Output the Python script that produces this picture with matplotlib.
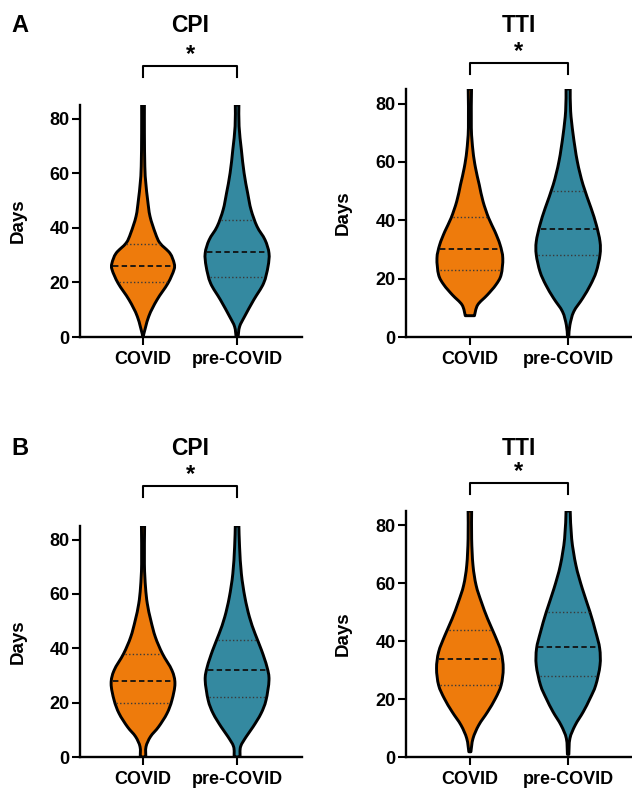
import numpy as np
import matplotlib
matplotlib.use("Agg")
import matplotlib.pyplot as plt
import matplotlib.transforms as mtransforms
from matplotlib.path import Path
from matplotlib.patches import PathPatch

plt.rcParams['font.family'] = ['Liberation Sans', 'DejaVu Sans']
plt.rcParams['font.weight'] = 'bold'

groups = ['COVID', 'pre-COVID']
colors = ['#EE7B0C', '#3489A0']

# violin outlines: height (days) and half-width (x units)
a_cpi_covid_y = [0, 7.5, 13.6, 19.7, 24.6, 27.0, 30.7, 34.4, 38.0, 44.2, 50.3, 56.4, 62.5, 74.7, 85]
a_cpi_covid_w = [0.0, 0.057, 0.14, 0.25, 0.31, 0.312, 0.27, 0.17, 0.124, 0.07, 0.046, 0.028, 0.018, 0.014, 0.014]
a_cpi_pre_y = [0, 3.8, 7.5, 13.6, 19.7, 25.8, 30.7, 35.6, 40.5, 46.6, 52.7, 60.1, 68.6, 77.2, 85]
a_cpi_pre_w = [0.01, 0.025, 0.075, 0.167, 0.266, 0.31, 0.32, 0.28, 0.2, 0.14, 0.106, 0.07, 0.043, 0.02, 0.018]

a_tti_covid_y = [7.3, 11, 14.4, 17.9, 21.3, 27, 31.6, 36.2, 40.8, 46.5, 52.2, 58, 63.7, 71.7, 85]
a_tti_covid_w = [0.044, 0.075, 0.167, 0.25, 0.3, 0.316, 0.29, 0.24, 0.18, 0.126, 0.09, 0.054, 0.03, 0.014, 0.016]
a_tti_pre_y = [0.5, 4.1, 8.7, 13.3, 17.9, 22.4, 28.2, 32.7, 38.5, 44.2, 52.2, 60.2, 69.4, 77.4, 85]
a_tti_pre_w = [0.007, 0.017, 0.054, 0.14, 0.215, 0.27, 0.306, 0.306, 0.27, 0.22, 0.143, 0.088, 0.048, 0.024, 0.02]

b_cpi_covid_y = [0, 3.8, 7.5, 11.1, 16, 20.9, 27, 31.9, 38, 44.1, 50.3, 56.4, 62.5, 71, 85]
b_cpi_covid_w = [0.028, 0.03, 0.075, 0.156, 0.24, 0.29, 0.32, 0.29, 0.195, 0.124, 0.078, 0.043, 0.025, 0.014, 0.016]
b_cpi_pre_y = [0, 3.8, 7.5, 11.1, 16, 20.9, 28.3, 33.1, 39.3, 45.4, 51.5, 58.8, 67.4, 77.2, 85]
b_cpi_pre_w = [0.03, 0.035, 0.092, 0.16, 0.24, 0.29, 0.32, 0.30, 0.245, 0.18, 0.124, 0.078, 0.043, 0.025, 0.018]

b_tti_covid_y = [1.8, 6.4, 11, 15.6, 20.2, 24.8, 30.6, 36.3, 42, 47.8, 53.6, 59.3, 66.2, 75.4, 85]
b_tti_covid_w = [0.01, 0.03, 0.085, 0.17, 0.245, 0.3, 0.32, 0.3, 0.24, 0.17, 0.11, 0.06, 0.03, 0.017, 0.017]
b_tti_pre_y = [0.9, 6.4, 11, 15.6, 20.2, 24.8, 31.7, 37.5, 43.2, 50.1, 58.2, 66.2, 75.4, 85]
b_tti_pre_w = [0.007, 0.017, 0.068, 0.145, 0.21, 0.265, 0.306, 0.303, 0.265, 0.21, 0.136, 0.075, 0.034, 0.02]

# quartiles (Q1, median, Q3)
a_cpi_q = [[20, 26, 34], [22, 31, 43]]
a_tti_q = [[23, 30, 41], [28, 37, 50]]
b_cpi_q = [[20, 28, 38], [22, 32, 43]]
b_tti_q = [[25, 34, 44], [28, 38, 50]]

yticks = [0, 20, 40, 60, 80]

fig = plt.figure(figsize=(6.32, 7.88), dpi=100)


def smooth_side(pts):
    # catmull-rom through the outline points, as bezier segments
    verts, codes = [], []
    n = len(pts)
    for i in range(n - 1):
        p0 = pts[max(i - 1, 0)]
        p1 = pts[i]
        p2 = pts[i + 1]
        p3 = pts[min(i + 2, n - 1)]
        c1 = p1 + (p2 - p0) / 6.0
        c2 = p2 - (p3 - p1) / 6.0
        verts += [c1, c2, p2]
        codes += [Path.CURVE4] * 3
    return verts, codes


def draw_violin(ax, pos, ys, ws, quart, color):
    ys = np.asarray(ys, float)
    ws = np.asarray(ws, float) * 1.06
    right = np.column_stack([pos + ws, ys])
    left = np.column_stack([pos - ws, ys])[::-1]
    verts = [right[0]]
    codes = [Path.MOVETO]
    v, c = smooth_side(right)
    verts += v
    codes += c
    verts.append(left[0])
    codes.append(Path.LINETO)
    v, c = smooth_side(left)
    verts += v
    codes += c
    verts.append(right[0])
    codes.append(Path.CLOSEPOLY)
    patch = PathPatch(Path(verts, codes), facecolor=color, edgecolor='black',
                      linewidth=2.1, joinstyle='round', zorder=2)
    ax.add_patch(patch)
    for k, q in enumerate(quart):
        hw = np.interp(q, ys, ws) - 0.015
        if k == 1:
            ax.plot([pos - hw, pos + hw], [q, q], color='#111111', lw=1.3,
                    dashes=(3, 1.8), zorder=3)
        else:
            ax.plot([pos - hw, pos + hw], [q, q], color='#3a3a3a', lw=1.0,
                    dashes=(1, 1.6), zorder=3)


def make_panel(rect, xlim, title, profiles, quarts, title_y, bracket_y, star_y):
    ax = fig.add_axes(rect)
    for i in range(2):
        draw_violin(ax, i, profiles[i][0], profiles[i][1], quarts[i], colors[i])
    ax.set_xlim(*xlim)
    ax.set_ylim(0, 85)
    ax.set_yticks(yticks)
    ax.set_xticks([0, 1])
    ax.set_xticklabels(groups)
    ax.spines['top'].set_visible(False)
    ax.spines['right'].set_visible(False)
    for s in ['left', 'bottom']:
        ax.spines[s].set_linewidth(1.7)
    ax.tick_params(axis='both', width=1.5, length=6, labelsize=13)
    ax.tick_params(axis='y', pad=1.5)
    ax.tick_params(axis='x', pad=4)
    ax.set_ylabel('Days', fontsize=13.5, fontweight='bold')
    ax.yaxis.set_label_coords(-0.24, 0.5)

    tr = mtransforms.blended_transform_factory(ax.transData, fig.transFigure)
    drop = 11 / 788
    ax.plot([0, 0, 1, 1], [bracket_y - drop, bracket_y, bracket_y, bracket_y - drop],
            color='black', lw=1.5, transform=tr, clip_on=False)
    ax.text(0.5, star_y, '*', transform=tr, ha='center', va='center',
            fontsize=17, fontweight='bold')
    ax.text(0.5, title_y, title, transform=tr, ha='center', va='center',
            fontsize=16.5, fontweight='bold')
    return ax


make_panel([80 / 632, 1 - 337 / 788, 222 / 632, 232 / 788], (-0.67, 1.69), 'CPI',
           [(a_cpi_covid_y, a_cpi_covid_w), (a_cpi_pre_y, a_cpi_pre_w)], a_cpi_q,
           1 - 26 / 788, 1 - 66 / 788, 1 - 55 / 788)
make_panel([406 / 632, 1 - 337 / 788, 226 / 632, 248 / 788], (-0.65, 1.65), 'TTI',
           [(a_tti_covid_y, a_tti_covid_w), (a_tti_pre_y, a_tti_pre_w)], a_tti_q,
           1 - 26 / 788, 1 - 63 / 788, 1 - 52 / 788)
make_panel([80 / 632, 1 - 757 / 788, 222 / 632, 231 / 788], (-0.67, 1.69), 'CPI',
           [(b_cpi_covid_y, b_cpi_covid_w), (b_cpi_pre_y, b_cpi_pre_w)], b_cpi_q,
           1 - 448 / 788, 1 - 486 / 788, 1 - 475 / 788)
make_panel([406 / 632, 1 - 757 / 788, 226 / 632, 246 / 788], (-0.65, 1.65), 'TTI',
           [(b_tti_covid_y, b_tti_covid_w), (b_tti_pre_y, b_tti_pre_w)], b_tti_q,
           1 - 448 / 788, 1 - 483 / 788, 1 - 472 / 788)

fig.text(20 / 632, 1 - 25 / 788, 'A', ha='center', va='center', fontsize=17, fontweight='bold')
fig.text(20 / 632, 1 - 449 / 788, 'B', ha='center', va='center', fontsize=17, fontweight='bold')

fig.savefig('out.png', dpi=100)
